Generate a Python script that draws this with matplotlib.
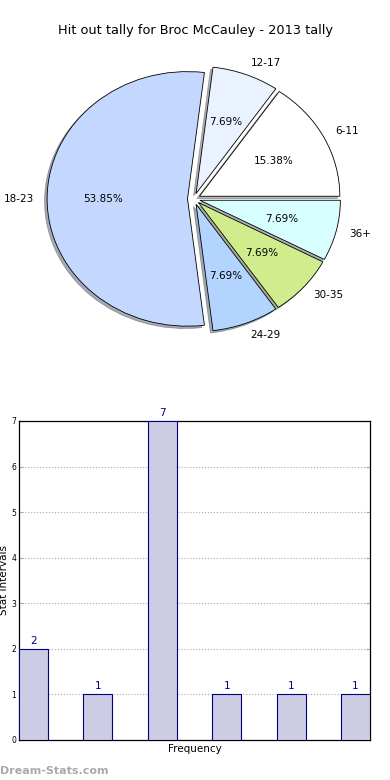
import matplotlib
matplotlib.use("Agg")
import matplotlib.pyplot as plt

categories = ["6-11", "12-17", "18-23", "24-29", "30-35", "36+"]
values = [2, 1, 7, 1, 1, 1]
pie_colors = ["#FFFFFF", "#EAF2FF", "#C4D8FF", "#B3D4FF", "#D0EC8C", "#D8FFFF"]
title = "Hit out tally for Broc McCauley - 2013 tally"
yticks = [0, 1, 2, 3, 4, 5, 6, 7]

fig = plt.figure(figsize=(3.9, 7.8), dpi=100)

# Pie
ax1 = fig.add_axes([0.047, 0.541, 0.90, 0.408])
wedges, texts, autotexts = ax1.pie(
    values, labels=categories, colors=pie_colors, explode=[0.045] * len(values),
    autopct="%1.2f%%", startangle=0, shadow=dict(ox=-0.013, oy=-0.013, shade=0.6),
    counterclock=True, labeldistance=1.095,
    wedgeprops=dict(edgecolor="black", linewidth=0.6),
    textprops=dict(fontsize=7.5))
ax1.set_aspect("auto")
ax1.set_xlim(-1.25, 1.25)
ax1.set_ylim(-1.25, 1.25)
fig.text(0.5, 0.961, title, ha="center", va="center", fontsize=9.3)

# Bars
ax2 = fig.add_axes([0.0487, 0.0513, 0.9, 0.409])
x = list(range(len(values)))
bars = ax2.bar(x, values, width=0.45, align="edge", color="#CCCCE5",
               edgecolor="#000080", linewidth=0.8, zorder=3)
for xi, v in zip(x, values):
    ax2.text(xi + 0.225, v + 0.07, str(v), ha="center", va="bottom",
             color="#000080", fontsize=7.5)
ax2.set_xlim(0, 5.45)
ax2.set_ylim(0, 7)
ax2.set_yticks(yticks)
ax2.set_xticks([])
ax2.yaxis.grid(True, linestyle=":", color="#aaaaaa", linewidth=0.8)
ax2.tick_params(axis="y", labelsize=5.5, direction="in", length=3,
                color="#aaaaaa", right=True, pad=2)
ax2.set_xlabel("Frequency", fontsize=7.5, labelpad=3)
ax2.set_ylabel("Stat Intervals", fontsize=7.5, labelpad=2)
for s in ax2.spines.values():
    s.set_linewidth(0.9)

fig.text(0.0, 0.012, "Dream-Stats.com", ha="left", va="center",
         color="#aaaaaa", fontsize=8, fontweight="bold")

fig.savefig("out.png", dpi=100)
